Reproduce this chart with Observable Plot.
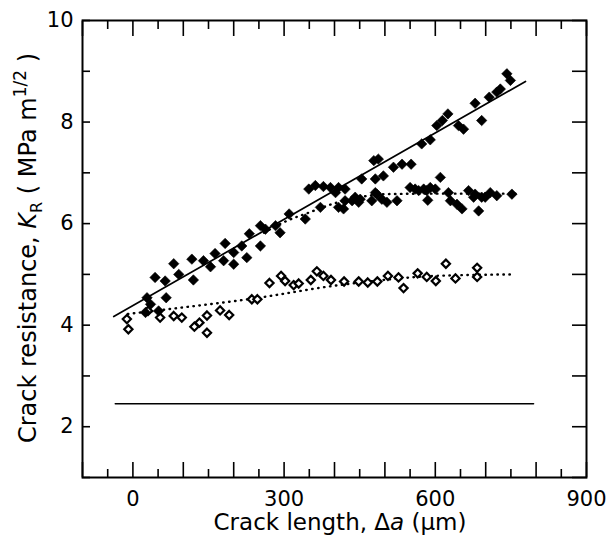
<!DOCTYPE html>
<html>
<head>
<meta charset="utf-8">
<script src="https://cdn.jsdelivr.net/npm/d3@7"></script>
<script src="https://cdn.jsdelivr.net/npm/@observablehq/plot@0.6"></script>
<style>
  html, body { margin: 0; padding: 0; background: #fff; }
  #chart { width: 614px; height: 541px; }
</style>
</head>
<body>
<div id="chart"></div>
<script>
// ---- data ----
// filled diamonds that follow the rising solid fit line
const risingPts = [
  [25,4.25],[28,4.54],[35,4.41],[44,4.94],[51,4.28],[64,4.87],[66,4.54],[81,5.21],[91,5.0],
  [117,5.3],[120,4.89],[140,5.27],[154,5.15],[163,5.41],[180,5.27],[183,5.61],[200,5.2],[200,5.43],
  [216,5.56],[226,5.33],[231,5.8],[253,5.96],[263,5.89],[283,5.96],[310,6.19],[349,6.68],[362,6.75],
  [378,6.73],[392,6.71],[408,6.71],[421,6.68],[402,6.61],[454,6.88],[478,7.24],[487,7.27],[481,6.88],
  [497,6.94],[517,7.11],[534,7.17],[552,7.17],[573,7.57],[590,7.65],[603,7.93],[614,8.03],[625,8.16],
  [646,7.93],[656,7.86],[679,8.37],[692,8.03],[707,8.49],[722,8.59],[729,8.65],[742,8.95],[749,8.82]
];
// filled diamonds that level off (dotted curve near 6.6)
const plateauPts = [
  [253,5.56],[292,5.82],[342,6.09],[372,6.32],[408,6.32],[421,6.45],[418,6.29],[435,6.45],[441,6.52],
  [448,6.42],[451,6.48],[474,6.45],[481,6.61],[484,6.58],[494,6.48],[504,6.42],[524,6.45],[550,6.71],
  [560,6.68],[567,6.65],[577,6.68],[583,6.65],[585,6.46],[590,6.71],[600,6.68],[610,6.91],[626,6.61],
  [630,6.45],[643,6.38],[653,6.29],[666,6.65],[676,6.52],[679,6.58],[686,6.25],[692,6.52],[699,6.52],
  [709,6.61],[722,6.55],[752,6.58]
];
// open diamonds (lower curve near 5.0)
const openPts = [
  [-12,4.12],[-9,3.92],[30,4.28],[54,4.15],[81,4.18],[97,4.15],[122,3.97],[132,4.05],[147,4.19],
  [147,3.85],[173,4.29],[191,4.2],[236,4.51],[247,4.51],[271,4.83],[294,4.97],[302,4.87],[319,4.79],
  [329,4.82],[353,4.89],[365,5.06],[378,4.97],[393,4.89],[419,4.86],[448,4.86],[466,4.84],[485,4.86],
  [506,4.97],[527,4.94],[537,4.73],[565,5.02],[583,4.95],[601,4.87],[621,5.21],[640,4.92],[683,5.13],
  [683,4.95]
];
// fitted lines
const risingFit = [[-38,4.17],[779,8.80]];
const plateauFit = [[260,5.82],[300,6.03],[350,6.22],[400,6.40],[450,6.52],[500,6.58],[600,6.59],[769,6.59]];
const openFit = [[-10,4.22],[100,4.35],[236,4.52],[395,4.77],[487,4.88],[600,4.97],[755,5.0]];
const thresholdLine = [[-35,2.45],[795,2.45]];

// ticks
const xLabelTicks = [0, 300, 600, 900];
const xMajorTicks = [-100,0,100,200,300,400,500,600,700,800,900];
const xMinorTicks = [-50,50,150,250,350,450,550,650,750,850];
const yLabelTicks = [2, 4, 6, 8, 10];
const yAllTicks = [1,2,3,4,5,6,7,8,9,10];

const X = d => d[0], Y = d => d[1];
const noText = () => "";

const svg = Plot.plot({
  width: 614,
  height: 541,
  marginLeft: 82,
  marginRight: 28,
  marginTop: 20,
  marginBottom: 64,
  style: { fontFamily: "DejaVu Sans", fontSize: "21px", color: "black", background: "white" },
  x: { domain: [-100, 900] },
  y: { domain: [1, 10] },
  marks: [
    // axes: labels
    Plot.axisX({ anchor: "bottom", ticks: xLabelTicks, tickSize: 0, tickPadding: 14, fontSize: 21, label: null }),
    Plot.axisY({ anchor: "left", ticks: yLabelTicks, tickSize: 0, tickPadding: 9, fontSize: 21, label: null }),
    // inward tick marks
    Plot.axisX({ anchor: "bottom", ticks: xMajorTicks, tickSize: -15, tickFormat: noText, label: null, strokeWidth: 1.6 }),
    Plot.axisX({ anchor: "bottom", ticks: xMinorTicks, tickSize: -8, tickFormat: noText, label: null, strokeWidth: 1.6 }),
    Plot.axisX({ anchor: "top", ticks: xMajorTicks, tickSize: -15, tickFormat: noText, label: null, strokeWidth: 1.6 }),
    Plot.axisX({ anchor: "top", ticks: xMinorTicks, tickSize: -8, tickFormat: noText, label: null, strokeWidth: 1.6 }),
    Plot.axisY({ anchor: "left", ticks: yAllTicks, tickSize: -8, tickFormat: noText, label: null, strokeWidth: 1.6 }),
    Plot.axisY({ anchor: "right", ticks: yAllTicks, tickSize: -15, tickFormat: noText, label: null, strokeWidth: 1.6 }),
    Plot.frame({ stroke: "black", strokeWidth: 2 }),
    // lines
    Plot.line(thresholdLine, { x: X, y: Y, stroke: "black", strokeWidth: 1.5 }),
    Plot.line(risingFit, { x: X, y: Y, stroke: "black", strokeWidth: 1.7 }),
    Plot.line(plateauFit, { x: X, y: Y, curve: "monotone-x", stroke: "black", strokeWidth: 2.4, strokeDasharray: "0.5,5.5", strokeLinecap: "round" }),
    Plot.line(openFit, { x: X, y: Y, curve: "monotone-x", stroke: "black", strokeWidth: 2.4, strokeDasharray: "0.5,5.5", strokeLinecap: "round" }),
    // points
    Plot.dot(openPts, { x: X, y: Y, symbol: "diamond2", r: 3.7, fill: "white", stroke: "black", strokeWidth: 2.2 }),
    Plot.dot(plateauPts, { x: X, y: Y, symbol: "diamond2", r: 4.7, fill: "black", stroke: "black", strokeWidth: 0.6 }),
    Plot.dot(risingPts, { x: X, y: Y, symbol: "diamond2", r: 4.7, fill: "black", stroke: "black", strokeWidth: 0.6 })
  ]
});

document.getElementById("chart").appendChild(svg);

// axis titles with italic / sub / superscripts
const s = d3.select(svg);
const xt = s.append("text")
  .attr("x", 340).attr("y", 530)
  .attr("text-anchor", "middle")
  .attr("font-family", "DejaVu Sans").attr("font-size", 23).attr("fill", "black");
xt.append("tspan").text("Crack length, Δ");
xt.append("tspan").attr("font-style", "italic").text("a");
xt.append("tspan").text(" (μm)");

const yt = s.append("text")
  .attr("transform", "translate(36,248) rotate(-90)")
  .attr("text-anchor", "middle")
  .attr("font-family", "DejaVu Sans").attr("font-size", 24).attr("fill", "black");
yt.append("tspan").text("Crack resistance, ");
yt.append("tspan").attr("font-style", "italic").text("K");
yt.append("tspan").attr("font-size", 16).attr("dy", 6).text("R");
yt.append("tspan").attr("dy", -6).text(" ( MPa m");
yt.append("tspan").attr("font-size", 17).attr("dy", -10).text("1/2");
yt.append("tspan").attr("dy", 10).text(" )");
</script>
</body>
</html>
